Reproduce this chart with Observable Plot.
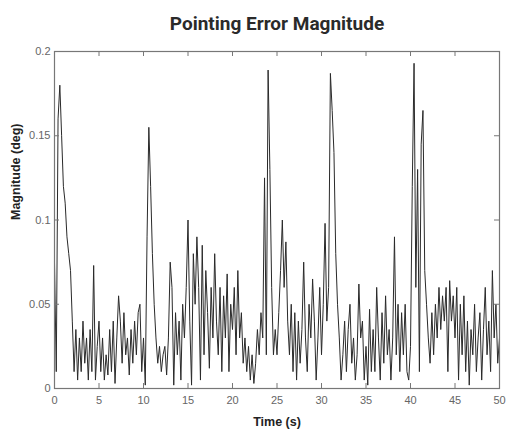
<!DOCTYPE html>
<html>
<head>
<meta charset="utf-8">
<script src="https://cdn.jsdelivr.net/npm/d3@7"></script>
<script src="https://cdn.jsdelivr.net/npm/@observablehq/plot@0.6"></script>
<style>
  body { margin: 0; background: #fff; }
  #title { position: relative; width: 506px; height: 40px; }
  #title span { position: absolute; left: 277px; top: 12px; transform: translateX(-50%);
    font-family: "Liberation Sans Narrow", "Roboto", sans-serif; font-weight: bold; font-size: 19px; color: #2a2a2a; white-space: nowrap; }
</style>
</head>
<body>
<div id="title"><span>Pointing Error Magnitude</span></div>
<div id="chart"></div>
<script>
const titleText = "Pointing Error Magnitude";
const xLabel = "Time (s)";
const yLabel = "Magnitude (deg)";
const dt = 0.2;
const magnitude = [
  0.075, 0.01, 0.16, 0.18, 0.15,
  0.12, 0.11, 0.09, 0.08, 0.07,
  0.04, 0.01, 0.035, 0.005, 0.03,
  0.01, 0.04, 0.015, 0.03, 0.005,
  0.035, 0.01, 0.073, 0.005, 0.025,
  0.04, 0.01, 0.03, 0.005, 0.02,
  0.008, 0.035, 0.01, 0.04, 0.003,
  0.03, 0.055, 0.04, 0.015, 0.045,
  0.02, 0.03, 0.008, 0.035, 0.015,
  0.04, 0.02, 0.045, 0.05, 0.01,
  0.03, 0.002, 0.09, 0.155, 0.12,
  0.08, 0.05, 0.03, 0.015, 0.025,
  0.01, 0.02, 0.025, 0.008, 0.03,
  0.075, 0.06, 0.002, 0.045, 0.02,
  0.04, 0.005, 0.05, 0.03, 0.06,
  0.1, 0.04, 0.002, 0.08, 0.05,
  0.09, 0.06, 0.005, 0.085, 0.02,
  0.07, 0.045, 0.012, 0.06, 0.03,
  0.08, 0.04, 0.02, 0.06, 0.01,
  0.055, 0.03, 0.068, 0.01, 0.05,
  0.035, 0.06, 0.02, 0.07, 0.03,
  0.045, 0.015, 0.03, 0.01, 0.025,
  0.005, 0.02, 0.003, 0.015, 0.035,
  0.02, 0.045, 0.03, 0.125, 0.02,
  0.189, 0.13, 0.06, 0.02, 0.035,
  0.02, 0.045, 0.07, 0.1, 0.06,
  0.087, 0.04, 0.02, 0.05, 0.01,
  0.045, 0.005, 0.04, 0.015, 0.035,
  0.075, 0.03, 0.01, 0.05, 0.03,
  0.065, 0.04, 0.005, 0.03, 0.06,
  0.02, 0.05, 0.098, 0.04, 0.06,
  0.187, 0.165, 0.14, 0.08, 0.05,
  0.03, 0.005, 0.02, 0.04, 0.01,
  0.035, 0.05, 0.015, 0.03, 0.005,
  0.02, 0.062, 0.03, 0.04, 0.005,
  0.025, 0.002, 0.047, 0.01, 0.035,
  0.01, 0.06, 0.03, 0.005, 0.045,
  0.015, 0.055, 0.02, 0.035, 0.005,
  0.03, 0.09, 0.02, 0.05, 0.01,
  0.045, 0.02, 0.05, 0.01, 0.005,
  0.025, 0.12, 0.193, 0.06, 0.13,
  0.01, 0.145, 0.165, 0.07, 0.05,
  0.03, 0.015, 0.045, 0.02, 0.05,
  0.03, 0.06, 0.035, 0.055, 0.04,
  0.06, 0.01, 0.064, 0.04, 0.055,
  0.03, 0.06, 0.005, 0.05, 0.02,
  0.055, 0.01, 0.04, 0.002, 0.035,
  0.02, 0.05, 0.01, 0.03, 0.045,
  0.005, 0.035, 0.06, 0.02, 0.04,
  0.01, 0.07, 0.03, 0.05, 0.015,
  0.03
];
const xTicks = [0, 5, 10, 15, 20, 25, 30, 35, 40, 45, 50];
const yTicks = [0, 0.05, 0.1, 0.15, 0.2];
const yTickLabels = ["0", "0.05", "0.1", "0.15", "0.2"];

const data = magnitude.map((v, i) => ({t: +(i * dt).toFixed(2), v}));
const W = 506, H = 399, mT = 11, mB = 51, mL = 54, mR = 7;
const innerH = H - mT - mB, innerW = W - mL - mR;

const chart = Plot.plot({
  width: W, height: H,
  marginTop: mT, marginBottom: mB, marginLeft: mL, marginRight: mR,
  style: {fontFamily: "Liberation Sans, Arial, sans-serif", background: "#fff"},
  x: {domain: [0, 50], ticks: xTicks},
  y: {domain: [0, 0.2], ticks: yTicks},
  marks: [
    Plot.line(data, {x: "t", y: "v", stroke: "#2a2a2a", strokeWidth: 1}),
    Plot.frame({stroke: "#777", strokeWidth: 1.2}),
    Plot.tickX(xTicks, {x: d => d, insetTop: innerH - 5, stroke: "#777"}),
    Plot.tickX(xTicks, {x: d => d, insetBottom: innerH - 5, stroke: "#777"}),
    Plot.tickY(yTicks, {y: d => d, insetRight: innerW - 5, stroke: "#777"}),
    Plot.tickY(yTicks, {y: d => d, insetLeft: innerW - 5, stroke: "#777"}),
    Plot.axisX(xTicks, {tickSize: 0, tickPadding: 8, fontSize: 11, fill: "#666", label: null}),
    Plot.axisY(yTicks, {tickSize: 0, tickPadding: 4, fontSize: 11, fill: "#666", label: null,
      tickFormat: (d) => yTickLabels[yTicks.indexOf(d)]}),
    Plot.text([xLabel], {frameAnchor: "bottom", dy: 37, text: d => d, fontSize: 12.5, fontWeight: "bold", fill: "#222"}),
    Plot.text([yLabel], {frameAnchor: "left", dx: -39, rotate: -90, text: d => d, fontSize: 12.5, fontWeight: "bold", fill: "#222"})
  ]
});
document.getElementById("chart").appendChild(chart);
</script>
</body>
</html>
